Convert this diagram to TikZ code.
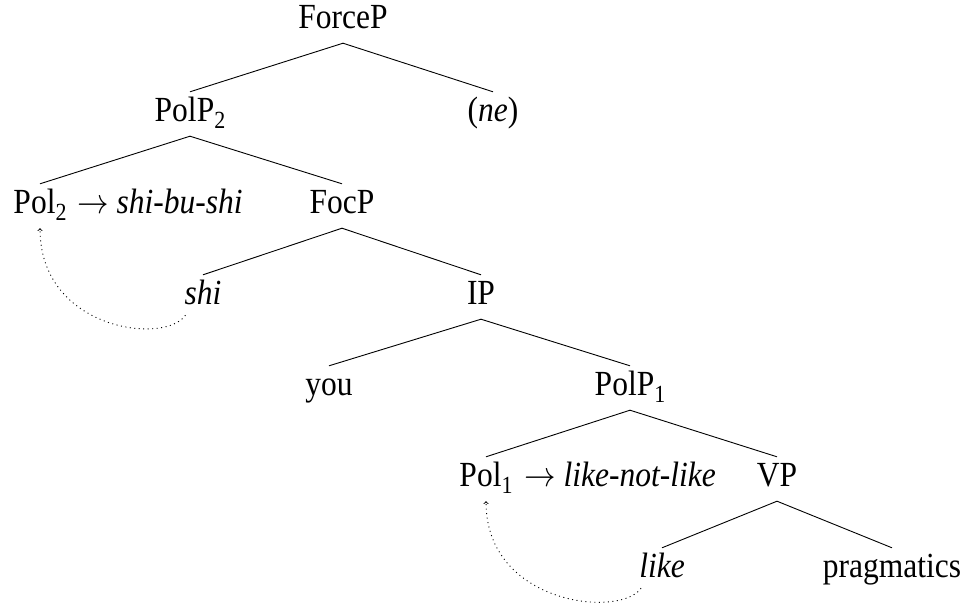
\RequirePackage{fix-cm}
\documentclass[tikz,border=0pt]{standalone}
\usepackage{graphicx}
\usepackage{fontspec}
\setmainfont{Liberation Serif}
\newcommand\vstr[1]{\scalebox{1}[1.12]{#1}}
\newcommand\subd[1]{\raisebox{-0.2em}{\fontsize{22}{26}\selectfont #1}}
\begin{document}
\begin{tikzpicture}[x=1pt,y=-1pt,
  lab/.style={anchor=base,inner xsep=0pt,inner ysep=7pt,text height=22pt,text depth=8pt,
    font=\fontsize{31.5}{38}\selectfont},
  extra/.style={lab,anchor=base west},
  branch/.style={line width=0.9pt},
  move/.style={line width=0.9pt,dash pattern=on 1pt off 3.5pt,->,>=to}]
\useasboundingbox (0,0) rectangle (967,608);
\node[lab] (forceP) at (343,28) {\vstr{ForceP}};
\node[lab] (polP2) at (190,121) {\vstr{PolP\subd{2}}};
\node[lab] (ne) at (493,121) {\vstr{(\textit{ne})}};
\node[lab] (pol2) at (40,213) {\vstr{Pol\subd{2}}};
\node[extra] (sbs) at (77,213) {\vstr{$\rightarrow$ \textit{shi-bu-shi}}};
\node[lab] (focP) at (342,213) {\vstr{FocP}};
\node[lab] (shi) at (203,304) {\vstr{\textit{shi}}};
\node[lab] (ip) at (481,304) {\vstr{IP}};
\node[lab] (you) at (329,395) {\vstr{you}};
\node[lab] (polP1) at (630,395) {\vstr{PolP\subd{1}}};
\node[lab] (pol1) at (486,486) {\vstr{Pol\subd{1}}};
\node[extra] (lnl) at (524,486) {\vstr{$\rightarrow$ \textit{like-not-like}}};
\node[lab] (vp) at (777,486) {\vstr{VP}};
\node[lab] (like) at (662,577) {\vstr{\textit{like}}};
\node[lab] (prag) at (892,577) {\vstr{pragmatics}};
\draw[branch] (polP2.north) -- (forceP.south) -- (ne.north);
\draw[branch] (pol2.north) -- (polP2.south) -- (focP.north);
\draw[branch] (shi.north) -- (focP.south) -- (ip.north);
\draw[branch] (you.north) -- (ip.south) -- (polP1.north);
\draw[branch] (pol1.north) -- (polP1.south) -- (vp.north);
\draw[branch] (like.north) -- (vp.south) -- (prag.north);
\draw[move] ([shift={(1,-4)}]shi.south west) .. controls +(-20,30) and +(0,102) .. (pol2.south);
\draw[move] ([shift={(2,-4)}]like.south west) .. controls +(-20,30) and +(0,104) .. (pol1.south);
\end{tikzpicture}
\end{document}
